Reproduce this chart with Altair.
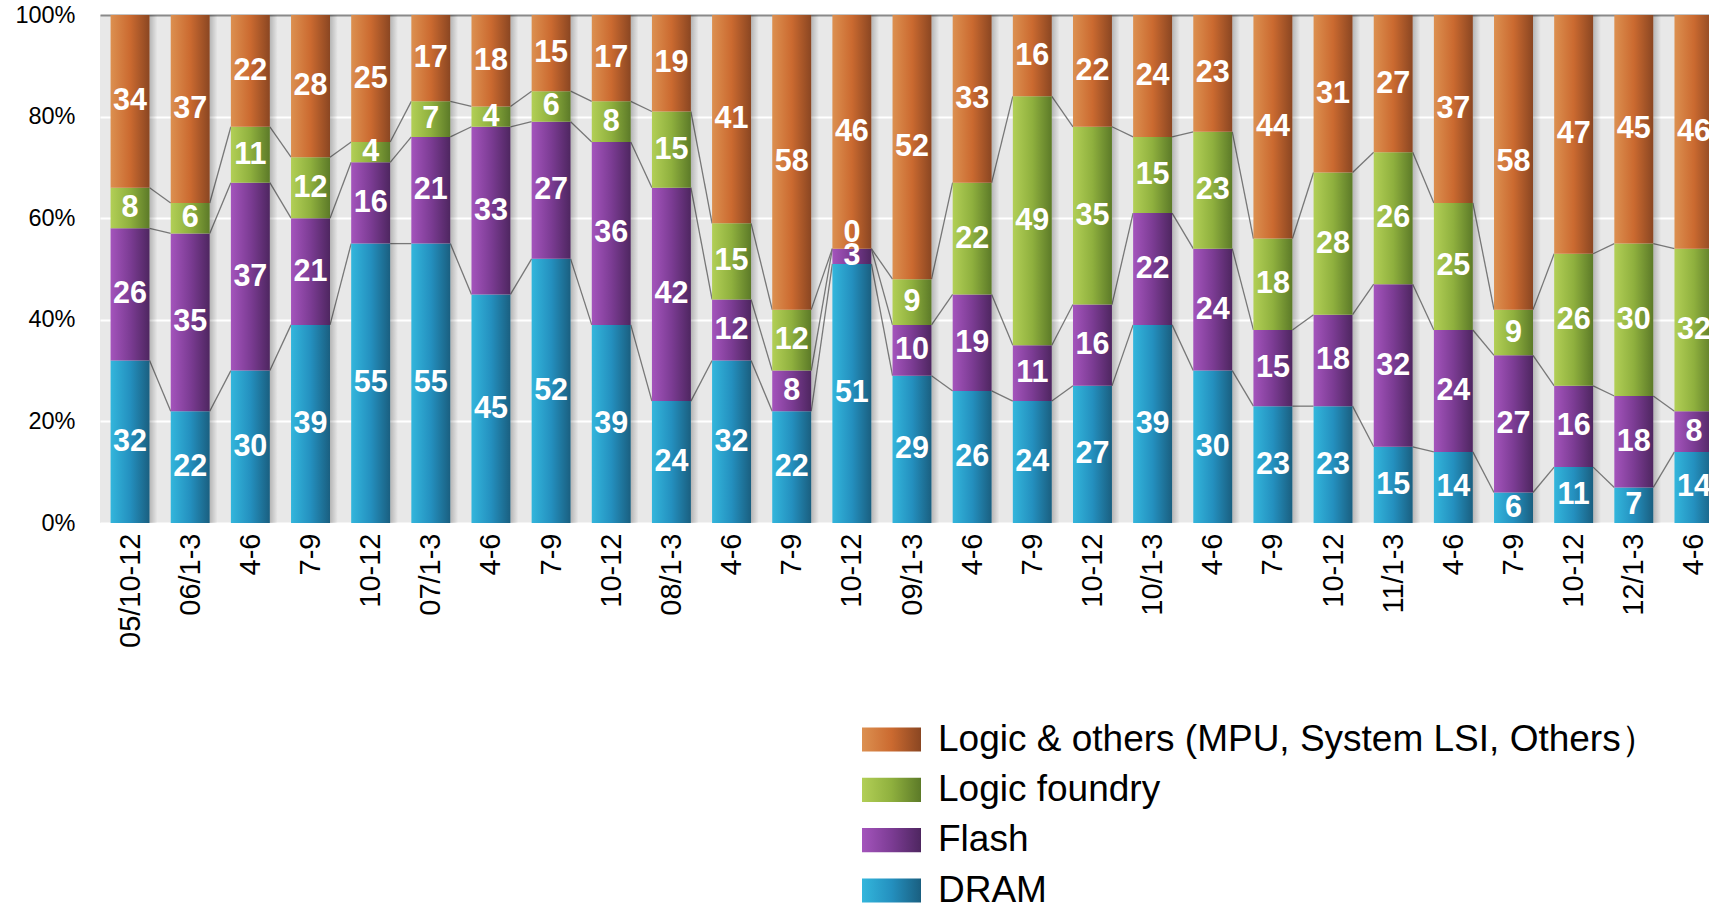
import altair as alt
import pandas as pd

# Quarterly periods (x axis)
periods = ["05/10-12", "06/1-3", "4-6", "7-9", "10-12", "07/1-3", "4-6", "7-9", "10-12",
           "08/1-3", "4-6", "7-9", "10-12", "09/1-3", "4-6", "7-9", "10-12", "10/1-3",
           "4-6", "7-9", "10-12", "11/1-3", "4-6", "7-9", "10-12", "12/1-3", "4-6"]

# Share of each category per period (%), bottom to top
dram = [32, 22, 30, 39, 55, 55, 45, 52, 39, 24, 32, 22, 51, 29, 26, 24, 27, 39, 30, 23, 23, 15, 14, 6, 11, 7, 14]
flash = [26, 35, 37, 21, 16, 21, 33, 27, 36, 42, 12, 8, 3, 10, 19, 11, 16, 22, 24, 15, 18, 32, 24, 27, 16, 18, 8]
foundry = [8, 6, 11, 12, 4, 7, 4, 6, 8, 15, 15, 12, 0, 9, 22, 49, 35, 15, 23, 18, 28, 26, 25, 9, 26, 30, 32]
logic = [34, 37, 22, 28, 25, 17, 18, 15, 17, 19, 41, 58, 46, 52, 33, 16, 22, 24, 23, 44, 31, 27, 37, 58, 47, 45, 46]

series_keys = ["DRAM", "Flash", "Logic foundry", "Logic & others (MPU, System LSI, Others\uff09"]
series_vals = [dram, flash, foundry, logic]

# Horizontal gradient (light, mid, dark) for each category
gradients = {
    "DRAM": ("#33b6dc", "#2490bf", "#1a5f80"),
    "Flash": ("#a454bc", "#7c3c94", "#4e2660"),
    "Logic foundry": ("#b2cf56", "#8fb03e", "#5c7a28"),
    "Logic & others (MPU, System LSI, Others\uff09": ("#dc9050", "#cb6a30", "#8a4622"),
}

HALF = 0.324      # half bar width, in band units
SHADOW = 0.13     # width of the soft shadow right of each bar

rows = []
for i in range(len(periods)):
    base = 0
    for key, vals in zip(series_keys, series_vals):
        v = vals[i]
        rows.append(dict(idx=i, series=key, value=v, y0=base, y1=base + v,
                         mid=base + v / 2, xl=i - HALF, xr=i + HALF))
        base += v
df = pd.DataFrame(rows)

# connector lines between the segment boundaries of neighbouring bars
cum = []
run = [0] * len(periods)
for vals in series_vals[:-1]:
    run = [a + b for a, b in zip(run, vals)]
    cum.append(list(run))
line_rows = []
for c in cum:
    for i in range(len(periods) - 1):
        line_rows.append(dict(x=i + HALF, x2=i + 1 - HALF, y=c[i], y2=c[i + 1]))
lines_df = pd.DataFrame(line_rows)

shadow_df = pd.DataFrame({"s0": [i + HALF for i in range(len(periods))],
                          "s1": [i + HALF + SHADOW for i in range(len(periods))]})


def grad(stops):
    c0, c1, c2 = stops
    return alt.LinearGradient(
        gradient="linear",
        stops=[alt.GradientStop(color=c0, offset=0),
               alt.GradientStop(color=c1, offset=0.5),
               alt.GradientStop(color=c2, offset=1)],
        x1=0, x2=1, y1=0, y2=0)


label_expr = "[" + ",".join("'%s'" % p for p in periods) + "][datum.value]"
x_scale = alt.Scale(domain=[-0.5, 26.25], nice=False, zero=False)
y_scale = alt.Scale(domain=[0, 100], nice=False, zero=True)
x_axis = alt.Axis(values=list(range(len(periods))), labelExpr=label_expr, labelAngle=270,
                  labelAlign="right", labelBaseline="middle", labelPadding=10,
                  labelFontSize=29, labelColor="#000000", labelFont="Liberation Sans",
                  ticks=False, domain=False, grid=False, title=None,
                  labelOverlap=False, labelFlush=False, labelBound=False)
y_axis = alt.Axis(values=[0, 20, 40, 60, 80, 100], labelExpr="datum.value + '%'",
                  labelFontSize=23.5, labelColor="#000000", labelFont="Liberation Sans",
                  labelPadding=25, ticks=False, domain=False, title=None,
                  grid=True, gridWidth=2,
                  gridColor={"condition": {"test": "datum.value == 100", "value": "#8a8a8a"},
                             "value": "#ffffff"})

base = alt.Chart(df)

lines = alt.Chart(lines_df).mark_rule(color="#777777", strokeWidth=1.3).encode(
    x=alt.X("x:Q", scale=x_scale, axis=x_axis),
    x2="x2:Q",
    y=alt.Y("y:Q", scale=y_scale, axis=y_axis),
    y2="y2:Q",
)

shadow_grad = alt.LinearGradient(
    gradient="linear",
    stops=[alt.GradientStop(color="rgba(0,0,0,0.22)", offset=0),
           alt.GradientStop(color="rgba(0,0,0,0)", offset=1)],
    x1=0, x2=1, y1=0, y2=0)
shadows = alt.Chart(shadow_df).mark_rect(color=shadow_grad, clip=True).encode(
    x=alt.X("s0:Q", scale=x_scale, axis=x_axis),
    x2="s1:Q",
    y=alt.Y("y0:Q", scale=y_scale, axis=y_axis),
    y2=alt.Y2("y1:Q"),
).transform_calculate(y0="0", y1="100")

bars = []
for key in series_keys:
    bars.append(
        base.transform_filter(alt.datum.series == key)
        .mark_rect(color=grad(gradients[key]), clip=True)
        .encode(
            x=alt.X("xl:Q", scale=x_scale, axis=x_axis),
            x2="xr:Q",
            y=alt.Y("y0:Q", scale=y_scale, axis=y_axis),
            y2="y1:Q",
        )
    )

text_style = dict(color="#ffffff", fontSize=30.5, fontWeight="bold", font="Liberation Sans",
                  align="center", baseline="middle", clip=True)
labels = base.transform_filter(alt.datum.value > 0).mark_text(**text_style).encode(
    x=alt.X("idx:Q", scale=x_scale, axis=x_axis),
    y=alt.Y("mid:Q", scale=y_scale, axis=y_axis),
    text="value:Q",
)
zero_labels = base.transform_filter(alt.datum.value == 0).mark_text(dy=-16, **text_style).encode(
    x=alt.X("idx:Q", scale=x_scale, axis=x_axis),
    y=alt.Y("mid:Q", scale=y_scale, axis=y_axis),
    text="value:Q",
)

main = alt.layer(lines, shadows, *bars, labels, zero_labels)

# legend, top to bottom
legend_order = series_keys[::-1]
legend_df = pd.DataFrame({"series": legend_order, "row": list(range(len(legend_order)))})
legend_df["r0"] = legend_df["row"] - 0.24
legend_df["r1"] = legend_df["row"] + 0.24
leg_scale = alt.Scale(domain=[0, 3], range=[724.5, 875.5], nice=False, zero=False)

legend_layers = []
for key in legend_order:
    legend_layers.append(
        alt.Chart(legend_df).transform_filter(alt.datum.series == key)
        .mark_rect(color=grad(gradients[key]))
        .encode(
            x=alt.value(762), x2=alt.value(821),
            y=alt.Y("r0:Q", scale=leg_scale, axis=None),
            y2="r1:Q",
        )
    )
legend_text = alt.Chart(legend_df).mark_text(
    align="left", baseline="middle", fontSize=37, font="Liberation Sans", color="#000000"
).encode(
    x=alt.value(838),
    y=alt.Y("row:Q", scale=leg_scale, axis=None),
    text="series:N",
)
legend = alt.layer(*legend_layers, legend_text)

chart = alt.layer(main, legend).resolve_scale(y="independent").properties(
    width=1609,
    height=508,
    autosize=alt.AutoSizeParams(type="none"),
    padding={"left": 100, "top": 15, "right": 0, "bottom": 385},
).configure_view(fill="#e8e8e8", strokeWidth=0)

chart.save("out.html", embed_options={"renderer": "svg", "actions": False})
